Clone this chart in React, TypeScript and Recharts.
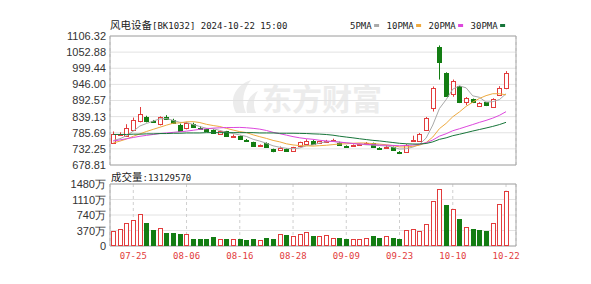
import { ComposedChart, Bar, Line, XAxis, YAxis, CartesianGrid, ReferenceArea } from 'recharts'

// trading days shown on the chart (2024)
const dates = [
  '07-22', '07-23', '07-24', '07-25', '07-26', '07-29', '07-30', '07-31',
  '08-01', '08-02', '08-05', '08-06', '08-07', '08-08', '08-09', '08-12', '08-13', '08-14', '08-15', '08-16',
  '08-19', '08-20', '08-21', '08-22', '08-23', '08-26', '08-27', '08-28', '08-29', '08-30',
  '09-02', '09-03', '09-04', '09-05', '09-06', '09-09', '09-10', '09-11', '09-12', '09-13',
  '09-18', '09-19', '09-20', '09-23', '09-24', '09-25', '09-26', '09-27', '09-30',
  '10-08', '10-09', '10-10', '10-11', '10-14', '10-15', '10-16', '10-17', '10-18', '10-21', '10-22',
]

const opens = [
  753, 781, 776, 796, 824, 839, 825, 816, 837, 829,
  812, 800, 815, 803, 798, 795, 782, 790, 774, 775,
  762, 754, 744, 752, 731, 728, 732, 724, 741, 750,
  759, 752, 757, 759, 753, 741, 743, 745, 748, 751,
  736, 734, 738, 723, 723, 758, 760, 795, 867, 1070,
  984, 915, 939, 886, 897, 875, 886, 871, 912, 934,
]
const highs = [
  790, 787, 814, 836, 871, 842, 828, 840, 844, 832,
  816, 822, 819, 808, 800, 797, 792, 792, 780, 777,
  765, 756, 747, 754, 733, 740, 734, 739, 756, 764,
  762, 759, 762, 766, 756, 744, 747, 750, 755, 753,
  738, 745, 740, 725, 748, 776, 785, 838, 939, 1075,
  986, 962, 941, 904, 899, 887, 888, 900, 940, 990,
]
const lows = [
  750, 776, 772, 792, 820, 820, 818, 810, 830, 815,
  790, 797, 803, 795, 788, 782, 780, 773, 770, 764,
  757, 741, 741, 738, 721, 726, 723, 722, 739, 748,
  747, 750, 754, 757, 744, 737, 741, 742, 746, 738,
  731, 732, 727, 715, 720, 756, 757, 793, 856, 962,
  905, 905, 884, 877, 884, 872, 874, 868, 910, 930,
]
const closes = [
  782, 783, 800, 828, 848, 824, 822, 837, 832, 818,
  792, 818, 806, 797, 790, 784, 790, 775, 776, 766,
  760, 743, 745, 740, 724, 736, 726, 737, 754, 760,
  750, 757, 758, 762, 746, 740, 745, 747, 751, 740,
  734, 737, 729, 718, 745, 762, 782, 834, 934, 1019,
  908, 956, 889, 901, 886, 884, 876, 897, 934, 984,
]
// volume, in 万
const volumes = [
  352, 417, 539, 619, 757, 553, 376, 432, 311, 311,
  279, 279, 175, 175, 158, 213, 175, 175, 175, 158,
  146, 175, 133, 199, 175, 279, 262, 230, 279, 328,
  247, 230, 262, 199, 199, 158, 175, 158, 199, 247,
  182, 230, 182, 165, 376, 417, 359, 522, 1063, 1363,
  983, 878, 636, 456, 417, 376, 359, 546, 1000, 1312.957,
]

const ma5 = [
  760, 766, 776, 791, 808.2, 816.6, 824.4, 831.8, 832.6, 826.6,
  820.2, 819.4, 813.2, 806.2, 800.6, 799, 793.4, 787.2, 783, 778.2,
  773.4, 764, 758, 750.8, 742.4, 737.6, 734.2, 732.6, 735.4, 742.6,
  745.4, 751.6, 755.8, 757.4, 754.6, 752.6, 750.2, 748, 745.8, 744.6,
  743.4, 741.8, 738.2, 731.6, 732.6, 738.2, 747.2, 768.2, 811.4, 866.2,
  895.4, 930.2, 941.2, 934.6, 908, 903.2, 887.2, 888.8, 895.4, 915,
]
const ma10 = [
  752, 758, 765, 774, 782, 790, 797, 804, 811, 817.4,
  818.4, 821.9, 822.5, 819.4, 813.6, 809.6, 806.4, 800.2, 794.6, 789.4,
  786.2, 778.7, 772.6, 766.9, 760.3, 755.5, 749.1, 745.3, 743.1, 742.5,
  741.5, 742.9, 744.2, 746.4, 748.6, 749, 750.9, 751.9, 751.6, 749.6,
  748, 746, 743.1, 738.7, 738.6, 740.8, 744.5, 753.2, 771.5, 799.4,
  816.8, 838.7, 854.7, 873, 887.1, 899.3, 908.7, 915, 915, 911.5,
]
const ma20 = [
  758, 762, 766, 770, 774, 777, 780, 783, 785, 787,
  789, 791, 794, 797, 799, 801, 802, 803, 803, 803.4,
  802.3, 800.3, 797.6, 793.2, 787, 782.6, 777.8, 772.8, 768.9, 766,
  763.9, 760.8, 758.4, 756.7, 754.5, 752.3, 750, 748.6, 747.4, 746.1,
  744.8, 744.5, 743.7, 742.6, 743.6, 744.9, 747.7, 752.6, 761.6, 774.5,
  782.4, 792.4, 798.9, 805.9, 812.9, 820.1, 826.6, 834.1, 843.3, 855.5,
]
const ma30 = [
  780, 780, 780, 781, 781, 782, 782, 783, 783, 784,
  784, 785, 785, 785, 786, 786, 786, 786, 786, 786,
  786, 786, 785, 785, 785, 784, 784, 784, 783.6, 783.1,
  782, 781.2, 779.8, 777.6, 774.2, 771.4, 768.8, 765.8, 763.1, 760.5,
  758.6, 755.9, 753.3, 750.7, 749.2, 748.4, 748.2, 750.1, 755.4, 763.8,
  768.8, 775.9, 780.7, 786, 791.4, 796.4, 801.4, 806.7, 812.7, 820.2,
]

const priceTicks = [678.81, 732.25, 785.69, 839.13, 892.57, 946.0, 999.44, 1052.88, 1106.32]
const volTicks = [0, 370, 740, 1110, 1480]
const dateTicks = ['07-25', '08-06', '08-16', '08-28', '09-09', '09-23', '10-10', '10-22']

const boardName = '风电设备'
const boardCode = '[BK1032] 2024-10-22 15:00'

const maSeries = [
  { key: 'ma5', name: '5PMA', color: '#a9a9a9' },
  { key: 'ma10', name: '10PMA', color: '#eeaa40' },
  { key: 'ma20', name: '20PMA', color: '#dd48dd' },
  { key: 'ma30', name: '30PMA', color: '#17753a' },
]

const RED = '#e23c3c'
const GREEN = '#137d13'
const MONO = "'DejaVu Sans Mono', monospace"
const CJK = "'Noto Sans CJK SC', sans-serif"
const SANS = "'Liberation Sans', Arial, sans-serif"

const rows: any[] = dates.map((date, i) => ({
  date,
  open: opens[i],
  high: highs[i],
  low: lows[i],
  close: closes[i],
  vol: volumes[i],
  ma5: ma5[i],
  ma10: ma10[i],
  ma20: ma20[i],
  ma30: ma30[i],
  volUp: i === 0 ? closes[i] >= opens[i] : closes[i] >= closes[i - 1],
}))
// the reference leaves one empty slot after the last day
rows.push({ date: ' ', open: null, high: null, low: null, close: null, vol: null, ma5: null, ma10: null, ma20: null, ma30: null, volUp: true })

function Candle(props: any) {
  const { x, y, width, height, payload } = props
  if (!payload || payload.high == null) return null
  const top = Math.min(y, y + height)
  const span = Math.abs(height)
  const perUnit = span / (payload.high - payload.low)
  const toY = (v: number) => top + (payload.high - v) * perUnit
  const up = payload.close >= payload.open
  const color = up ? RED : GREEN
  const cx = Math.round(x + width / 2) + 0.5
  const bTop = Math.round(toY(Math.max(payload.open, payload.close))) + 0.5
  const bBot = Math.round(toY(Math.min(payload.open, payload.close))) + 0.5
  return (
    <g>
      <line x1={cx} x2={cx} y1={top} y2={top + span} stroke={color} strokeWidth={1} />
      <rect x={cx - 2} y={bTop} width={4} height={Math.max(bBot - bTop, 1)} fill={up ? '#fff' : color} stroke={color} strokeWidth={1} />
    </g>
  )
}

function VolBar(props: any) {
  const { x, y, width, height, payload } = props
  if (!payload || payload.vol == null || !height) return null
  const color = payload.volUp ? RED : GREEN
  const cx = Math.round(x + width / 2)
  return (
    <rect x={cx - 1.5} y={Math.round(y) + 0.5} width={4} height={Math.max(Math.round(height) - 1, 1)}
      fill={payload.volUp ? '#fff' : color} stroke={color} strokeWidth={1} />
  )
}

const PriceTick = ({ x, y, payload }: any) => (
  <text x={x} y={y} dy={4} textAnchor="end" fontSize={11} fill="#333" fontFamily={SANS}>
    {Number(payload.value).toFixed(2)}
  </text>
)

const VolTick = ({ x, y, payload }: any) => (
  <text x={x} y={y} dy={4} textAnchor="end" fontSize={11} fill="#333" fontFamily={SANS}>
    {payload.value === 0 ? '0' : `${payload.value}万`}
  </text>
)

const DateTick = ({ x, y, payload }: any) => (
  <text x={x} y={y} dy={13} textAnchor="middle" fontSize={9} fill={RED} fontFamily={MONO}>
    {payload.value}
  </text>
)

export default function App() {
  let lx = 350
  const legend = maSeries.map((m) => {
    const tx = lx
    const dx = tx + m.name.length * 5.4 + 2.5
    lx = dx + 5 + 7.5
    return { ...m, tx, dx }
  })
  const lastVol = Math.round(volumes[volumes.length - 1] * 10000)

  return (
    <div style={{ position: 'fixed', left: 0, top: 0, width: 591, height: 284, background: '#fff', overflow: 'hidden' }}>
      <svg width={591} height={284} style={{ position: 'absolute', left: 0, top: 0 }}>
        {/* watermark */}
        <path d="M236 113 C229 100 234 86 251 80 C243 90 241 101 246 113 Z" fill="#ececec" />
        <path d="M247 113 C245 104 249 95 258 91 C253 99 253 106 256 113 Z" fill="#ececec" />
        <text x={262} y={110} fontSize={30} fontWeight="bold" fill="#ececec" fontFamily={CJK}>东方财富</text>

        <text x={110} y={29} fill="#222">
          <tspan fontFamily={CJK} fontSize={10.5}>{boardName}</tspan>
          <tspan fontFamily={MONO} fontSize={9}>{boardCode}</tspan>
        </text>
        {legend.map((m) => (
          <g key={m.key}>
            <text x={m.tx} y={29} fontFamily={MONO} fontSize={9} fill="#222">{m.name}</text>
            <rect x={m.dx} y={24} width={5} height={3} fill={m.color} />
          </g>
        ))}
        <text x={111} y={181} fill="#222">
          <tspan fontFamily={CJK} fontSize={10.5}>成交量</tspan>
          <tspan fontFamily={MONO} fontSize={9}>{`:${lastVol}`}</tspan>
        </text>
      </svg>

      <div style={{ position: 'absolute', left: 0, top: 0 }}>
        <ComposedChart width={591} height={170} data={rows} margin={{ top: 36, right: 75, bottom: 5, left: 0 }}>
          <CartesianGrid horizontal vertical={false} stroke="#e2e2e2" />
          <CartesianGrid horizontal={false} vertical strokeDasharray="3 3" stroke="#cfcfcf" />
          <XAxis dataKey="date" ticks={dateTicks} interval={0} height={0} tick={false} axisLine={false} tickLine={false} />
          <YAxis
            width={110}
            domain={[priceTicks[0], priceTicks[priceTicks.length - 1]]}
            ticks={priceTicks}
            interval={0}
            allowDataOverflow
            axisLine={false}
            tickLine={false}
            tickSize={0}
            tickMargin={4}
            tick={<PriceTick />}
          />
          <ReferenceArea y1={priceTicks[0]} y2={priceTicks[priceTicks.length - 1]} fill="none" stroke="#a8a8a8" />
          <Bar dataKey={(d: any) => (d.high == null ? null : [d.low, d.high])} shape={<Candle />} isAnimationActive={false} />
          {maSeries.map((m) => (
            <Line key={m.key} type="linear" dataKey={m.key} stroke={m.color} strokeWidth={1} dot={false} activeDot={false} isAnimationActive={false} />
          ))}
        </ComposedChart>
      </div>

      <div style={{ position: 'absolute', left: 0, top: 0 }}>
        <ComposedChart width={591} height={284} data={rows} margin={{ top: 184, right: 75, bottom: 18, left: 0 }}>
          <CartesianGrid horizontal vertical={false} stroke="#e2e2e2" />
          <CartesianGrid horizontal={false} vertical strokeDasharray="3 3" stroke="#cfcfcf" />
          <XAxis dataKey="date" ticks={dateTicks} interval={0} height={20} axisLine={false} tickLine={false} tickSize={0} tickMargin={0} tick={<DateTick />} />
          <YAxis
            width={110}
            domain={[0, volTicks[volTicks.length - 1]]}
            ticks={volTicks}
            interval={0}
            allowDataOverflow
            axisLine={false}
            tickLine={false}
            tickSize={0}
            tickMargin={4}
            tick={<VolTick />}
          />
          <ReferenceArea y1={0} y2={volTicks[volTicks.length - 1]} fill="none" stroke="#a8a8a8" />
          <Bar dataKey="vol" shape={<VolBar />} isAnimationActive={false} />
        </ComposedChart>
      </div>
    </div>
  )
}
